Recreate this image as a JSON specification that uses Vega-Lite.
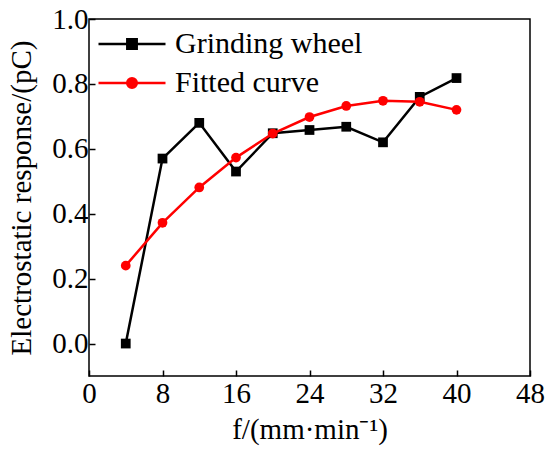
{
  "$schema": "https://vega.github.io/schema/vega-lite/v6.json",
  "width": 441,
  "height": 357,
  "autosize": "none",
  "padding": {"left": 89, "top": 19, "right": 20, "bottom": 76},
  "background": "white",
  "data": {
    "values": [
      {"series": "Grinding wheel", "f": 4, "response": 0.0},
      {"series": "Grinding wheel", "f": 8, "response": 0.57},
      {"series": "Grinding wheel", "f": 12, "response": 0.68},
      {"series": "Grinding wheel", "f": 16, "response": 0.53},
      {"series": "Grinding wheel", "f": 20, "response": 0.648},
      {"series": "Grinding wheel", "f": 24, "response": 0.658},
      {"series": "Grinding wheel", "f": 28, "response": 0.668},
      {"series": "Grinding wheel", "f": 32, "response": 0.62},
      {"series": "Grinding wheel", "f": 36, "response": 0.76},
      {"series": "Grinding wheel", "f": 40, "response": 0.818},
      {"series": "Fitted curve", "f": 4, "response": 0.24},
      {"series": "Fitted curve", "f": 8, "response": 0.372},
      {"series": "Fitted curve", "f": 12, "response": 0.481},
      {"series": "Fitted curve", "f": 16, "response": 0.573},
      {"series": "Fitted curve", "f": 20, "response": 0.647},
      {"series": "Fitted curve", "f": 24, "response": 0.698},
      {"series": "Fitted curve", "f": 28, "response": 0.732},
      {"series": "Fitted curve", "f": 32, "response": 0.748},
      {"series": "Fitted curve", "f": 36, "response": 0.745},
      {"series": "Fitted curve", "f": 40, "response": 0.72}
    ]
  },
  "encoding": {
    "x": {
      "field": "f",
      "type": "quantitative",
      "scale": {"domain": [0, 48], "nice": false, "zero": false},
      "axis": {"values": [0, 8, 16, 24, 32, 40, 48], "title": "f/(mm·min⁻¹)", "titlePadding": 7, "labelPadding": 9}
    },
    "y": {
      "field": "response",
      "type": "quantitative",
      "scale": {"domain": [-0.1, 1.0], "nice": false, "zero": false},
      "axis": {"values": [0, 0.2, 0.4, 0.6, 0.8, 1.0], "format": ".1f", "title": "Electrostatic response/(pC)", "titlePadding": 15, "labelPadding": 7}
    },
    "color": {
      "field": "series",
      "type": "nominal",
      "scale": {"domain": ["Grinding wheel", "Fitted curve"], "range": ["#000000", "#ff0000"]},
      "legend": {
        "orient": "none",
        "legendX": 28,
        "legendY": 10,
        "title": null,
        "padding": 0,
        "symbolSize": 400,
        "symbolStrokeWidth": 2.5,
        "labelFont": "Liberation Serif",
        "labelFontSize": 30,
        "labelColor": "black",
        "labelOffset": 28,
        "labelLimit": 400,
        "rowPadding": 9,
        "encode": {
          "symbols": {
            "update": {
              "shape": {"signal": "datum.value === 'Grinding wheel' ? 'M-3.35,0H3.35M-0.47,-0.47H0.47V0.47H-0.47Z' : 'M-3.35,0H3.35M0.48,0A0.48,0.48,0,1,1,-0.48,0A0.48,0.48,0,1,1,0.48,0'"},
              "fill": {"signal": "datum.value === 'Grinding wheel' ? 'black' : 'red'"},
              "stroke": {"signal": "datum.value === 'Grinding wheel' ? 'black' : 'red'"},
              "fillOpacity": {"value": 1},
              "strokeOpacity": {"value": 1}
            }
          }
        }
      }
    }
  },
  "layer": [
    {
      "transform": [{"filter": "datum.series === 'Grinding wheel'"}],
      "mark": {"type": "line", "strokeWidth": 2.5}
    },
    {
      "transform": [{"filter": "datum.series === 'Grinding wheel'"}],
      "mark": {"type": "point", "shape": "square", "filled": true, "size": 95, "opacity": 1}
    },
    {
      "transform": [{"filter": "datum.series === 'Fitted curve'"}],
      "mark": {"type": "line", "strokeWidth": 2.5}
    },
    {
      "transform": [{"filter": "datum.series === 'Fitted curve'"}],
      "mark": {"type": "point", "shape": "circle", "filled": true, "size": 95, "opacity": 1}
    }
  ],
  "config": {
    "font": "Liberation Serif",
    "view": {"stroke": "black", "strokeWidth": 1.5},
    "axis": {
      "grid": false,
      "domain": false,
      "ticks": true,
      "tickColor": "black",
      "tickWidth": 1.5,
      "tickSize": -6,
      "labelFont": "Liberation Serif",
      "labelFontSize": 29,
      "labelColor": "black",
      "labelFlush": false,
      "labelOverlap": false,
      "labelBound": false,
      "titleFont": "Liberation Serif",
      "titleFontSize": 29,
      "titleFontWeight": "normal",
      "titleColor": "black"
    }
  }
}
